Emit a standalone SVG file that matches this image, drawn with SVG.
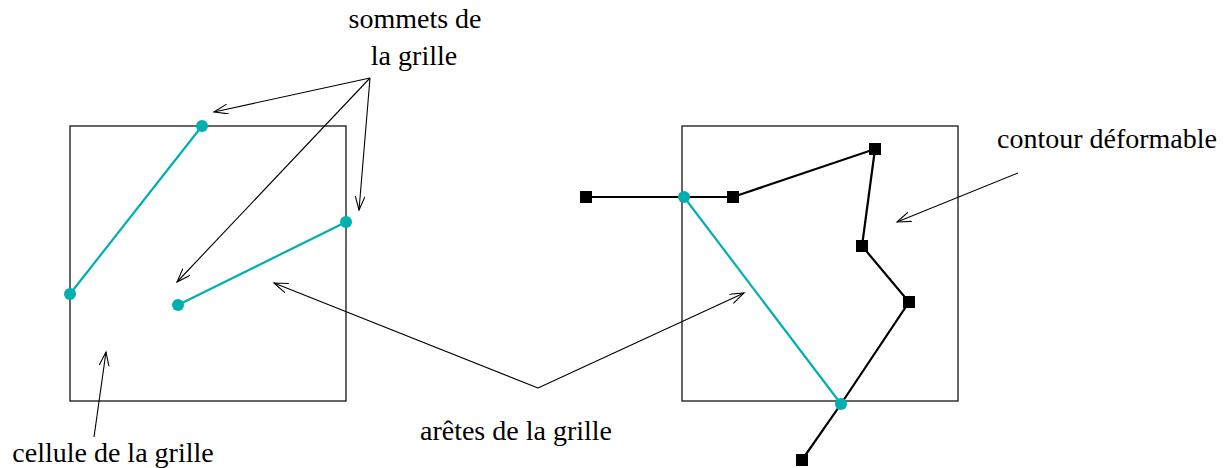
<svg xmlns="http://www.w3.org/2000/svg" width="1231" height="468" viewBox="0 0 1231 468">
<style>
.lbl{font-family:'Liberation Serif','Times New Roman',Times,'Tinos','Noto Serif','DejaVu Serif',serif;font-size:28px;fill:#000}
.cell{fill:none;stroke:#000;stroke-width:1.2}
.edge{stroke:#00b0b0;stroke-width:2.2;fill:none}
.vtx{fill:#00b0b0}
.cont{stroke:#000;stroke-width:2.2;fill:none}
.sq{fill:#000}
.ptr{stroke:#000;stroke-width:1.1;fill:none;marker-end:url(#ah)}
</style>
<defs>
<marker id="ah" markerUnits="userSpaceOnUse" markerWidth="16" markerHeight="12" refX="14" refY="5" orient="auto">
<path d="M0,0 L14,5 L0,10" fill="none" stroke="#000" stroke-width="1.1"/>
</marker>
</defs>
<g id="cell-left"><rect class="cell" x="70" y="126" width="276" height="275"/></g>
<g id="cell-right"><rect class="cell" x="682" y="126" width="276" height="275"/></g>
<g id="grid-edges">
<line class="edge" x1="70" y1="294" x2="202" y2="126"/>
<line class="edge" x1="178" y1="305" x2="346" y2="222"/>
<line class="edge" x1="684" y1="197" x2="841" y2="404"/>
</g>
<g id="contour">
<polyline class="cont" points="586,197 684,197 733,197 875,149 862,246 909,302 841,404 802,460"/>
<rect class="sq" x="580" y="191" width="12" height="12"/>
<rect class="sq" x="727" y="191" width="12" height="12"/>
<rect class="sq" x="869" y="143" width="12" height="12"/>
<rect class="sq" x="856" y="240" width="12" height="12"/>
<rect class="sq" x="903" y="296" width="12" height="12"/>
<rect class="sq" x="796" y="454" width="12" height="12"/>
</g>
<g id="grid-vertices">
<circle class="vtx" cx="202" cy="126" r="6"/>
<circle class="vtx" cx="70" cy="294" r="6"/>
<circle class="vtx" cx="346" cy="222" r="6"/>
<circle class="vtx" cx="178" cy="305" r="6"/>
<circle class="vtx" cx="684" cy="197" r="6"/>
<circle class="vtx" cx="841" cy="404" r="6"/>
</g>
<g id="connectors">
<line class="ptr" x1="370" y1="78" x2="214" y2="112"/>
<line class="ptr" x1="370" y1="78" x2="177" y2="282"/>
<line class="ptr" x1="370" y1="78" x2="359" y2="210"/>
<line class="ptr" x1="538" y1="388" x2="274" y2="283"/>
<line class="ptr" x1="538" y1="388" x2="744" y2="293"/>
<line class="ptr" x1="94" y1="437" x2="106" y2="352"/>
<line class="ptr" x1="1018" y1="173" x2="897" y2="222"/>
</g>
<g id="label-sommets" class="lbl">
<text x="415" y="28" text-anchor="middle">sommets de</text>
<text x="414" y="65" text-anchor="middle">la grille</text>
</g>
<g id="label-aretes" class="lbl"><text x="516" y="440" text-anchor="middle">arêtes de la grille</text></g>
<g id="label-cellule" class="lbl"><text x="113" y="462" text-anchor="middle">cellule de la grille</text></g>
<g id="label-contour" class="lbl"><text x="1107" y="148" text-anchor="middle">contour déformable</text></g>
</svg>
